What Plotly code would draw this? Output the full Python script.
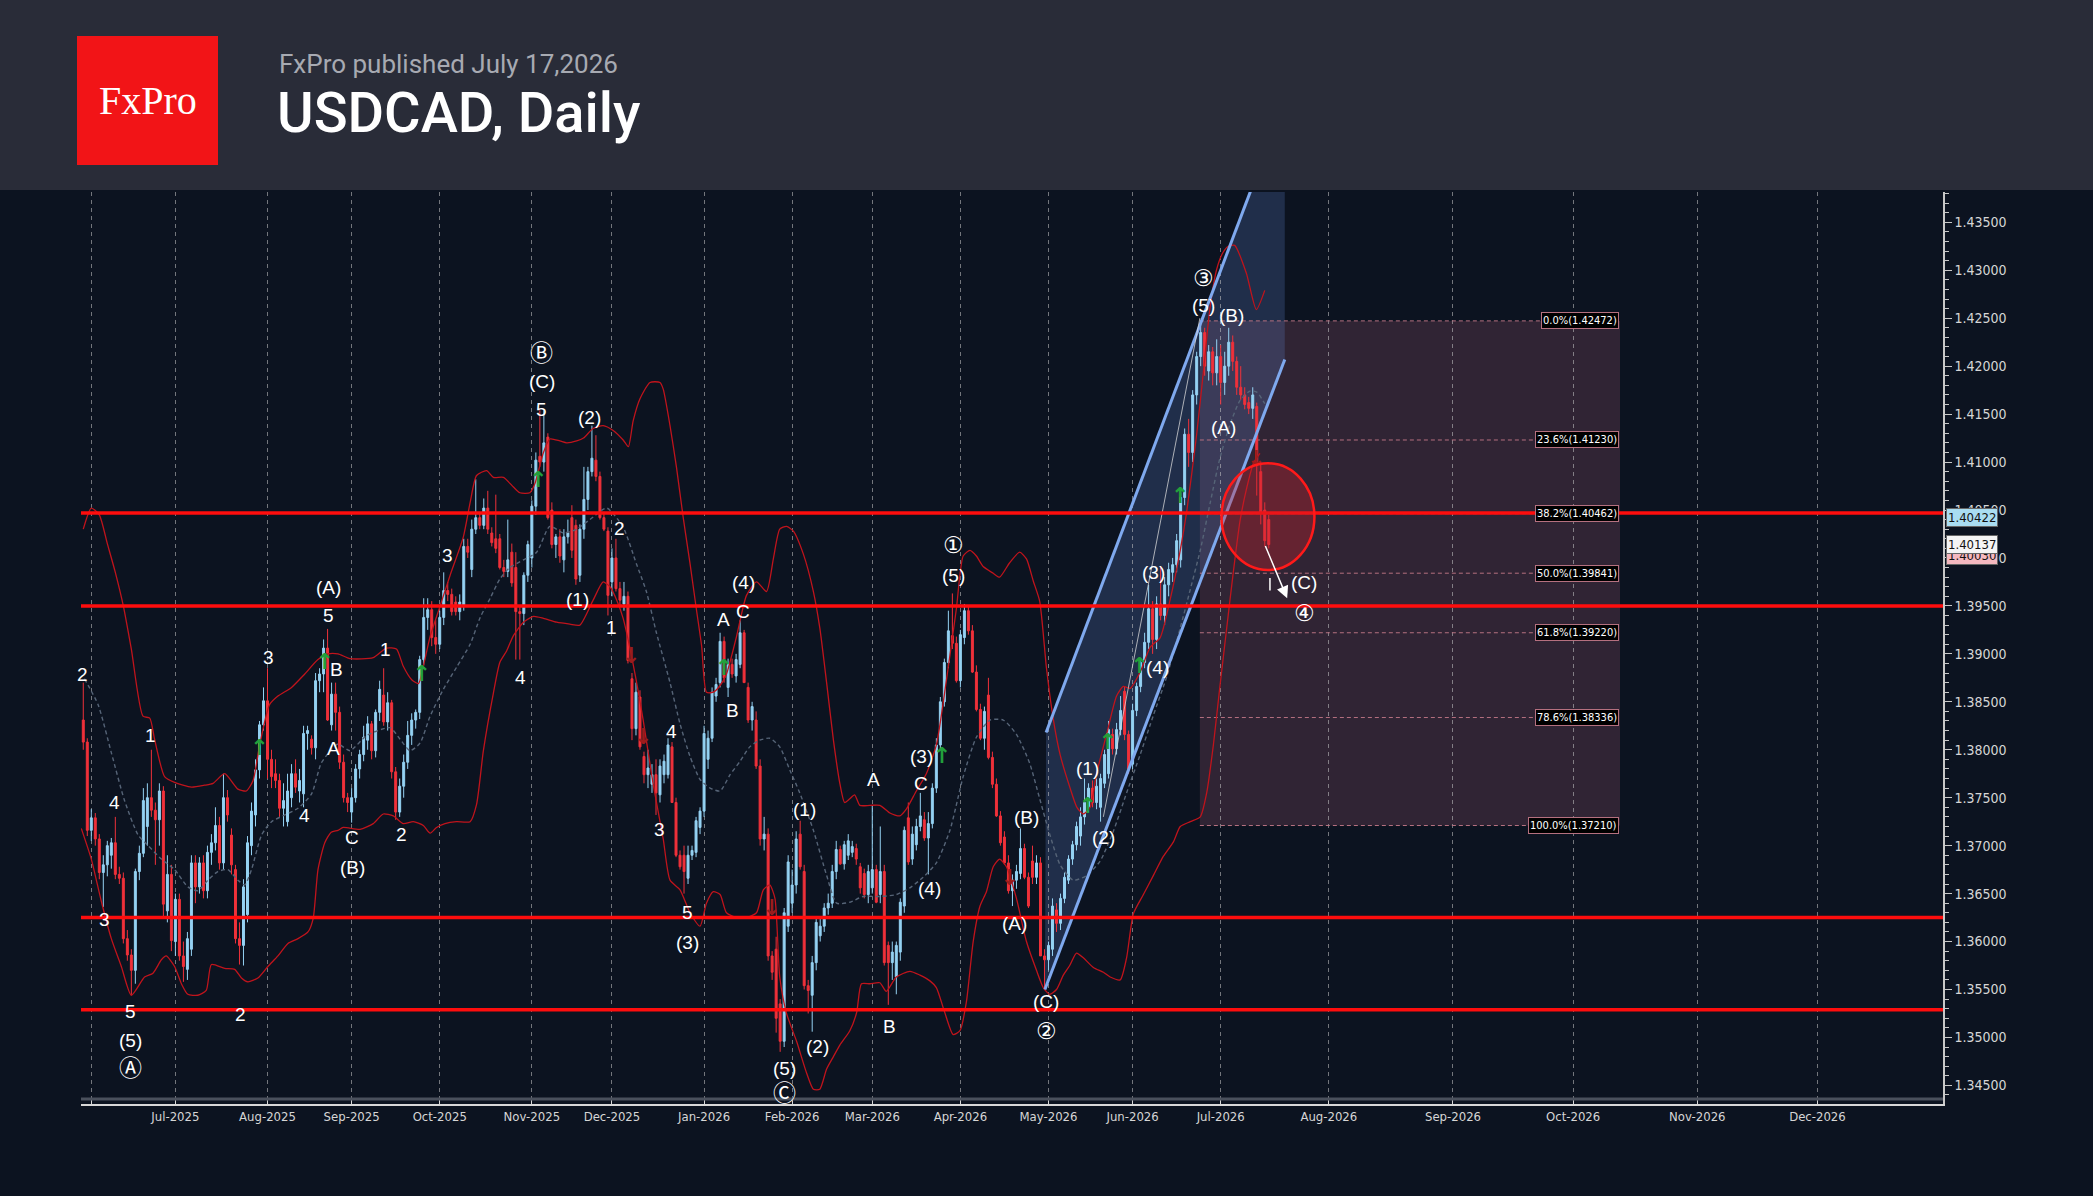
import pandas as pd
import plotly.graph_objects as go

# ---------------- DATA ----------------
opens = [
1.3831,1.3808,1.3716,1.3729,1.3707,1.3672,1.3680,1.3690,1.3703,1.3670,
1.3666,1.3603,1.3586,1.3570,1.3673,1.3692,1.3720,1.3750,1.3737,1.3727,
1.3757,1.3632,1.3670,1.3600,1.3644,1.3585,1.3571,1.3592,1.3682,1.3657,
1.3682,1.3653,1.3693,1.3703,1.3721,1.3682,1.3750,1.3711,1.3675,1.3603,
1.3596,1.3628,1.3700,1.3732,1.3779,1.3826,1.3851,1.3790,1.3775,1.3768,
1.3739,1.3725,1.3750,1.3775,1.3757,1.3754,1.3817,1.3811,1.3802,1.3872,
1.3879,1.3906,1.3826,1.3858,1.3839,1.3787,1.3750,1.3735,1.3750,1.3780,
1.3795,1.3810,1.3827,1.3799,1.3839,1.3857,1.3829,1.3849,1.3777,1.3735,
1.3762,1.3787,1.3815,1.3831,1.3839,1.3894,1.3938,1.3946,1.3917,1.3910,
1.3938,1.3966,1.3962,1.3954,1.3944,1.3951,1.4012,1.3988,1.4030,1.4042,
1.4034,1.4052,1.4026,1.4020,1.4020,1.3990,1.3986,1.4006,1.3990,1.3944,
1.3942,1.3982,1.4000,1.4054,1.4106,1.4100,1.4126,1.4050,1.4014,1.4022,
1.3998,1.4022,1.4042,1.4034,1.3982,1.4030,1.4061,1.4090,1.4102,1.4085,
1.4042,1.4028,1.3975,1.4000,1.3968,1.3952,1.3960,1.3874,1.3822,1.3855,
1.3793,1.3774,1.3764,1.3774,1.3753,1.3774,1.3774,1.3803,1.3745,1.3690,
1.3690,1.3666,1.3690,1.3693,1.3719,1.3736,1.3790,1.3812,1.3856,1.3870,
1.3913,1.3865,1.3889,1.3877,1.3889,1.3922,1.3865,1.3831,1.3831,1.3783,
1.3707,1.3712,1.3585,1.3592,1.3535,1.3496,1.3616,1.3640,1.3659,1.3712,
1.3673,1.3554,1.3544,1.3578,1.3606,1.3616,1.3635,1.3640,1.3673,1.3696,
1.3681,1.3690,1.3693,1.3697,1.3678,1.3671,1.3649,1.3656,1.3675,1.3649,
1.3673,1.3596,1.3578,1.3563,1.3589,1.3637,1.3729,1.3686,1.3701,1.3720,
1.3727,1.3708,1.3723,1.3760,1.3805,1.3850,1.3891,1.3919,1.3911,1.3872,
1.3917,1.3945,1.3924,1.3881,1.3842,1.3812,1.3857,1.3792,1.3764,1.3731,
1.3709,1.3682,1.3653,1.3664,1.3671,1.3697,1.3667,1.3684,1.3667,1.3682,
1.3585,1.3581,1.3592,1.3633,1.3619,1.3645,1.3664,1.3686,1.3701,1.3710,
1.3730,1.3740,1.3760,1.3745,1.3740,1.3765,1.3775,1.3816,1.3801,1.3821,
1.3861,1.3816,1.3785,1.3841,1.3866,1.3891,1.3912,1.3947,1.3915,1.3952,
1.3940,1.3972,1.3985,1.3993,1.3998,1.4063,1.4129,1.4110,1.4170,1.4210,
1.4235,1.4195,1.4215,1.4193,1.4210,1.4183,1.4200,1.4225,1.4205,1.4178,
1.4170,1.4162,1.4156,1.4158,1.4090,1.4050,1.4040]

highs = [
1.3870,1.3812,1.3738,1.3734,1.3712,1.3690,1.3705,1.3708,1.3730,1.3678,
1.3672,1.3612,1.3592,1.3676,1.3700,1.3760,1.3765,1.3800,1.3745,1.3765,
1.3762,1.3690,1.3680,1.3650,1.3650,1.3600,1.3610,1.3690,1.3690,1.3688,
1.3690,1.3700,1.3712,1.3740,1.3730,1.3775,1.3758,1.3718,1.3680,1.3620,
1.3665,1.3710,1.3745,1.3790,1.3830,1.3865,1.3885,1.3800,1.3790,1.3775,
1.3765,1.3775,1.3785,1.3790,1.3780,1.3825,1.3825,1.3815,1.3880,1.3885,
1.3915,1.3926,1.3870,1.3870,1.3845,1.3795,1.3755,1.3760,1.3785,1.3800,
1.3825,1.3835,1.3830,1.3842,1.3872,1.3885,1.3860,1.3852,1.3782,1.3770,
1.3795,1.3830,1.3838,1.3842,1.3898,1.3958,1.3958,1.3955,1.3935,1.3945,
1.3985,1.3975,1.3968,1.3960,1.3962,1.4020,1.4020,1.4040,1.4082,1.4048,
1.4062,1.4070,1.4032,1.4066,1.4025,1.3998,1.4040,1.4015,1.4006,1.3950,
1.3985,1.4018,1.4060,1.4110,1.4154,1.4154,1.4130,1.4058,1.4025,1.4030,
1.4030,1.4040,1.4055,1.4040,1.4035,1.4095,1.4095,1.4138,1.4128,1.4090,
1.4048,1.4032,1.4010,1.4020,1.3975,1.3975,1.3965,1.3880,1.3870,1.3862,
1.3798,1.3800,1.3785,1.3790,1.3790,1.3795,1.3812,1.3808,1.3750,1.3695,
1.3700,1.3700,1.3700,1.3730,1.3740,1.3825,1.3820,1.3865,1.3875,1.3922,
1.3918,1.3895,1.3895,1.3900,1.3935,1.3925,1.3870,1.3850,1.3840,1.3790,
1.3730,1.3718,1.3590,1.3605,1.3540,1.3635,1.3690,1.3675,1.3715,1.3726,
1.3680,1.3560,1.3585,1.3625,1.3625,1.3640,1.3650,1.3680,1.3705,1.3700,
1.3705,1.3712,1.3705,1.3702,1.3682,1.3676,1.3680,1.3742,1.3680,1.3720,
1.3680,1.3600,1.3600,1.3600,1.3645,1.3720,1.3745,1.3720,1.3728,1.3755,
1.3735,1.3735,1.3765,1.3812,1.3855,1.3895,1.3945,1.3963,1.3918,1.3925,
1.3952,1.3950,1.3930,1.3888,1.3848,1.3845,1.3875,1.3798,1.3770,1.3736,
1.3715,1.3690,1.3670,1.3680,1.3718,1.3702,1.3672,1.3700,1.3690,1.3688,
1.3592,1.3600,1.3645,1.3640,1.3650,1.3672,1.3690,1.3705,1.3725,1.3740,
1.3770,1.3765,1.3768,1.3770,1.3775,1.3800,1.3830,1.3822,1.3828,1.3856,
1.3866,1.3820,1.3848,1.3870,1.3895,1.3922,1.3972,1.3955,1.3960,1.3990,
1.3980,1.3995,1.4000,1.4025,1.4068,1.4135,1.4145,1.4175,1.4215,1.4247,
1.4240,1.4222,1.4220,1.4228,1.4222,1.4215,1.4240,1.4232,1.4210,1.4200,
1.4178,1.4168,1.4178,1.4162,1.4100,1.4058,1.4045]

lows = [
1.3800,1.3710,1.3705,1.3700,1.3665,1.3636,1.3668,1.3676,1.3665,1.3660,
1.3598,1.3580,1.3544,1.3556,1.3664,1.3688,1.3700,1.3730,1.3680,1.3700,
1.3625,1.3620,1.3590,1.3585,1.3580,1.3558,1.3560,1.3585,1.3640,1.3650,
1.3645,1.3645,1.3680,1.3695,1.3675,1.3675,1.3725,1.3670,1.3598,1.3576,
1.3575,1.3620,1.3690,1.3720,1.3770,1.3820,1.3770,1.3760,1.3760,1.3730,
1.3720,1.3720,1.3740,1.3755,1.3745,1.3740,1.3800,1.3795,1.3790,1.3860,
1.3860,1.3830,1.3820,1.3820,1.3780,1.3745,1.3735,1.3724,1.3745,1.3770,
1.3788,1.3800,1.3790,1.3792,1.3830,1.3825,1.3820,1.3770,1.3727,1.3730,
1.3750,1.3780,1.3805,1.3822,1.3832,1.3888,1.3925,1.3908,1.3900,1.3905,
1.3930,1.3955,1.3940,1.3940,1.3935,1.3945,1.4000,1.3980,1.4025,1.4030,
1.4030,1.4025,1.4012,1.4005,1.3988,1.3980,1.3980,1.3970,1.3894,1.3894,
1.3930,1.3975,1.3990,1.4045,1.4095,1.4090,1.4040,1.4010,1.4000,1.3995,
1.3985,1.4015,1.4000,1.3972,1.3975,1.4020,1.4050,1.4085,1.4080,1.4040,
1.4028,1.3940,1.3960,1.3965,1.3950,1.3945,1.3890,1.3810,1.3815,1.3800,
1.3765,1.3760,1.3755,1.3732,1.3745,1.3765,1.3770,1.3745,1.3688,1.3675,
1.3650,1.3660,1.3685,1.3688,1.3712,1.3730,1.3780,1.3808,1.3850,1.3865,
1.3870,1.3855,1.3875,1.3870,1.3885,1.3870,1.3828,1.3820,1.3780,1.3700,
1.3695,1.3580,1.3560,1.3505,1.3485,1.3490,1.3610,1.3630,1.3650,1.3675,
1.3550,1.3525,1.3506,1.3570,1.3600,1.3610,1.3628,1.3635,1.3665,1.3680,
1.3675,1.3685,1.3688,1.3680,1.3650,1.3645,1.3640,1.3650,1.3640,1.3640,
1.3575,1.3534,1.3560,1.3545,1.3580,1.3630,1.3680,1.3680,1.3695,1.3715,
1.3705,1.3670,1.3718,1.3755,1.3800,1.3845,1.3885,1.3905,1.3870,1.3865,
1.3910,1.3920,1.3880,1.3840,1.3810,1.3800,1.3790,1.3760,1.3730,1.3700,
1.3680,1.3650,1.3637,1.3655,1.3665,1.3665,1.3635,1.3660,1.3660,1.3585,
1.3552,1.3570,1.3585,1.3610,1.3612,1.3640,1.3660,1.3680,1.3695,1.3700,
1.3722,1.3735,1.3740,1.3738,1.3725,1.3760,1.3770,1.3795,1.3795,1.3815,
1.3810,1.3775,1.3780,1.3835,1.3860,1.3885,1.3905,1.3900,1.3905,1.3935,
1.3930,1.3960,1.3975,1.3985,1.3990,1.4055,1.4095,1.4100,1.4160,1.4200,
1.4190,1.4185,1.4180,1.4180,1.4160,1.4170,1.4190,1.4195,1.4170,1.4165,
1.4155,1.4150,1.4145,1.4065,1.4035,1.4012,1.4010]

closes = [
1.3808,1.3716,1.3729,1.3707,1.3672,1.3680,1.3700,1.3703,1.3670,1.3666,
1.3603,1.3586,1.3570,1.3673,1.3692,1.3747,1.3750,1.3737,1.3727,1.3757,
1.3639,1.3670,1.3601,1.3644,1.3585,1.3574,1.3603,1.3682,1.3657,1.3682,
1.3653,1.3693,1.3703,1.3721,1.3682,1.3750,1.3732,1.3680,1.3603,1.3596,
1.3657,1.3703,1.3736,1.3779,1.3826,1.3851,1.3790,1.3772,1.3768,1.3739,
1.3747,1.3757,1.3775,1.3761,1.3768,1.3817,1.3820,1.3802,1.3872,1.3879,
1.3906,1.3831,1.3858,1.3839,1.3787,1.3750,1.3745,1.3750,1.3780,1.3795,
1.3813,1.3827,1.3799,1.3839,1.3863,1.3829,1.3849,1.3777,1.3735,1.3762,
1.3787,1.3815,1.3831,1.3839,1.3894,1.3938,1.3946,1.3917,1.3910,1.3938,
1.3966,1.3962,1.3944,1.3944,1.3954,1.4012,1.4006,1.4030,1.4042,1.4034,
1.4052,1.4030,1.4016,1.4010,1.3990,1.3986,1.3998,1.3974,1.3944,1.3942,
1.3982,1.4014,1.4054,1.4102,1.4100,1.4120,1.4042,1.4014,1.4022,1.4002,
1.4022,1.4026,1.4008,1.3978,1.4030,1.4061,1.4090,1.4104,1.4085,1.4042,
1.4030,1.3961,1.4000,1.3968,1.3956,1.3960,1.3893,1.3822,1.3860,1.3803,
1.3774,1.3781,1.3774,1.3755,1.3783,1.3788,1.3805,1.3745,1.3690,1.3678,
1.3673,1.3690,1.3695,1.3726,1.3736,1.3817,1.3812,1.3860,1.3868,1.3913,
1.3875,1.3889,1.3879,1.3894,1.3922,1.3870,1.3831,1.3845,1.3783,1.3707,
1.3712,1.3585,1.3568,1.3520,1.3496,1.3630,1.3683,1.3659,1.3707,1.3678,
1.3554,1.3549,1.3578,1.3620,1.3616,1.3635,1.3640,1.3673,1.3696,1.3681,
1.3701,1.3705,1.3699,1.3686,1.3656,1.3649,1.3673,1.3675,1.3641,1.3673,
1.3578,1.3578,1.3589,1.3596,1.3641,1.3716,1.3683,1.3712,1.3720,1.3731,
1.3708,1.3723,1.3760,1.3805,1.3850,1.3891,1.3924,1.3911,1.3872,1.3920,
1.3945,1.3924,1.3881,1.3842,1.3812,1.3840,1.3792,1.3764,1.3731,1.3703,
1.3682,1.3653,1.3664,1.3673,1.3697,1.3667,1.3637,1.3667,1.3682,1.3585,
1.3581,1.3596,1.3637,1.3619,1.3645,1.3667,1.3686,1.3701,1.3720,1.3730,
1.3745,1.3760,1.3745,1.3762,1.3770,1.3795,1.3821,1.3801,1.3821,1.3841,
1.3816,1.3780,1.3841,1.3866,1.3891,1.3912,1.3947,1.3915,1.3952,1.3940,
1.3972,1.3988,1.3993,1.4018,1.4063,1.4129,1.4110,1.4170,1.4210,1.4235,
1.4200,1.4215,1.4193,1.4210,1.4183,1.4200,1.4225,1.4205,1.4178,1.4170,
1.4160,1.4156,1.4170,1.4100,1.4048,1.4018,1.4014]

# indicator lines (bar index, price)
upper_x = [0,2,4,6,8,10,12,14.9,16.6,17.8,20.3,22.8,27,30.3,32.4,35.3,38.6,40.7,42.4,44,46.5,48.6,52,55.3,58.6,61.1,
           63.6,66.6,72.4,75.7,78.2,79.9,82,83.7,84.9,86.6,89.1,91.6,94.9,96.6,98.2,100.7,102.4,104.9,107.4,109,111.5,
           112.8,114.9,116.5,119,120.7,123.2,124.9,127.3,129.8,132.3,134.8,136.1,137.3,139,141.5,144,144.8,146.5,148.1,
           149.8,151.5,153.1,154.4,155.6,157.3,159,160.6,163.1,165.6,168.1,170.6,172.3,173.9,175.6,177.3,179.8,182.3,
           183.9,185.6,187.3,188.9,190.1,191.4,192.6,193.9,196.4,198.9,201.4,203.9,205.5,208,210.5,213,215.5,218,219.7,
           221.4,223,224.7,227.2,228.8,231.3,233.8,235.5,237.2,238.8,240.5,242.2,243.9,246.4,248.1,249.7,251.4,253,255.5,
           258,259.7,261.4,263.9,266.4,268.9,271.4,273.9,275.5,278,279.7,281.3,283,284.5,285.9,287.5,290.4,292.9,295]
upper_y = [1.4030,1.4052,1.4045,1.4015,1.3985,1.3950,1.3905,1.3835,1.3833,1.3811,1.3772,1.3766,1.3761,1.3763,1.3765,
           1.3775,1.3759,1.3757,1.3768,1.3804,1.3847,1.3856,1.3865,1.3879,1.3894,1.3900,1.3900,1.3895,1.3896,1.3906,
           1.3905,1.3887,1.3873,1.3869,1.3887,1.3918,1.3950,1.3982,1.4022,1.4058,1.4086,1.4091,1.4084,1.4084,1.4074,
           1.4068,1.4068,1.4078,1.4110,1.4124,1.4122,1.4120,1.4122,1.4125,1.4135,1.4138,1.4133,1.4123,1.4116,1.4143,
           1.4166,1.4183,1.4183,1.4176,1.4138,1.4095,1.4042,1.3994,1.3946,1.3908,1.3860,1.3860,1.3867,1.3879,1.3918,
           1.3961,1.3975,1.3965,1.3999,1.4030,1.4033,1.4028,1.4004,1.3965,1.3927,1.3870,1.3810,1.3765,1.3745,1.3749,
           1.3753,1.3742,1.3742,1.3742,1.3734,1.3731,1.3738,1.3757,1.3775,1.3805,1.3872,1.3947,1.4002,1.4008,1.4002,
           1.3991,1.3984,1.3980,1.3995,1.4006,1.3999,1.3976,1.3955,1.3885,1.3832,1.3795,1.3760,1.3740,1.3733,1.3740,
           1.3775,1.3816,1.3856,1.3866,1.3864,1.3881,1.3907,1.3917,1.3957,1.4008,1.4048,1.4129,1.4195,1.4260,1.4301,
           1.4318,1.4325,1.4326,1.4297,1.4259,1.4279]

lower_x = [-0.5,2,4.5,7,9.5,12,15.3,17.4,19.5,20.7,22.8,24.5,26.1,28.6,30.7,32,35.3,37.8,39.5,41.1,43.6,46.1,48.6,51.1,
           53.6,56.1,57.4,58.6,60.3,61.9,63.6,64.9,69.1,72.4,74.9,77.4,79.9,82.4,84.9,86.6,88.2,90.3,93.2,96.6,98.2,99.9,
           102.4,104,105.7,107.4,109.9,112.4,114.9,118.2,121.5,124,127.3,129.8,131.5,133.2,134.8,137.3,139.8,142.3,144.8,
           146.5,149,151.5,154,155.6,157.3,159,160.6,163.1,165.6,168.1,169.8,171.4,172.7,173.9,175.6,178.1,180.6,182.3,
           183.9,185.6,187.3,188.9,191.4,193.1,194.3,196.4,198.9,200.5,203,206.4,208.9,211.4,213,215.1,217.2,218.9,220.5,
           222.2,223.9,225.5,227.2,228.8,230.5,233,235.5,238,239.7,241.3,243,244.7,246.3,248,249.7,252.2,254.7,256.4,
           258.9,260.5,262.2,264.7,267.2,269.7,272.2,273.9,276.4,278.9,280.5,282.2,283.8,285.5,287.2,288.8,290.5,292.2,
           293.8]
lower_y = [1.3718,1.3686,1.3642,1.3603,1.3574,1.3544,1.3563,1.3567,1.3581,1.3585,1.3574,1.3556,1.3545,1.3544,1.3549,
           1.3576,1.3572,1.3571,1.3562,1.3558,1.3562,1.3574,1.3585,1.3598,1.3603,1.3610,1.3624,1.3675,1.3703,1.3714,
           1.3716,1.3719,1.3717,1.3723,1.3733,1.3731,1.3723,1.3725,1.3721,1.3713,1.3719,1.3723,1.3725,1.3725,1.3743,
           1.3799,1.3859,1.3891,1.3903,1.3919,1.3933,1.3939,1.3937,1.3933,1.3931,1.3930,1.3956,1.3975,1.3970,1.3956,
           1.3937,1.3889,1.3831,1.3764,1.3707,1.3664,1.3654,1.3630,1.3616,1.3640,1.3652,1.3649,1.3630,1.3625,1.3625,
           1.3630,1.3654,1.3659,1.3645,1.3563,1.3525,1.3496,1.3463,1.3446,1.3446,1.3467,1.3480,1.3492,1.3507,1.3526,
           1.3556,1.3556,1.3557,1.3548,1.3563,1.3569,1.3565,1.3559,1.3552,1.3526,1.3503,1.3507,1.3537,1.3600,1.3637,
           1.3652,1.3678,1.3686,1.3678,1.3645,1.3600,1.3570,1.3552,1.3545,1.3550,1.3565,1.3575,1.3588,1.3583,1.3573,
           1.3568,1.3563,1.3560,1.3583,1.3629,1.3649,1.3669,1.3689,1.3704,1.3720,1.3725,1.3730,1.3755,1.3806,1.3866,
           1.3927,1.3987,1.4038,1.4073,1.4099,1.4109]

mid_x = [0.3,3.7,7,10.3,13.7,16.2,19.5,22.8,26.1,28.6,31.1,33.6,36.1,38.6,40.3,42,44.5,47,50.3,53.6,57,59.4,61.9,63.6,
         66.6,70.8,76.6,79.1,81.6,84.1,86.6,89.9,93.2,96.6,99.1,101.6,104,106.5,109.9,113.2,116.5,119.9,123.2,126.5,
         130.7,134.8,138.1,140.6,143.1,146.5,149,151.5,154,156.5,159,161.5,164,166.4,168.9,171.4,173.9,176.4,178.9,
         182.3,185.6,188.1,191.4,194.7,198.9,203,206.4,209.7,213,216.4,219.7,223,226.4,229.7,233,236.3,238.8,241.3,
         243.9,247.2,250.6,253.9,257.2,260.5,263.9,267.2,270.5,273.9,276.4,278.9,281.4,283.8,286.3,288.8,291.3,293,295]
mid_y = [1.3874,1.3847,1.3797,1.3747,1.3711,1.3700,1.3686,1.3675,1.3657,1.3653,1.3664,1.3673,1.3675,1.3664,1.3659,
         1.3675,1.3711,1.3725,1.3732,1.3739,1.3754,1.3786,1.3800,1.3806,1.3799,1.3815,1.3823,1.3811,1.3799,1.3807,
         1.3835,1.3863,1.3886,1.3910,1.3938,1.3958,1.3978,1.3990,1.3998,1.4006,1.4033,1.4026,1.4030,1.4040,1.4052,
         1.4032,1.3994,1.3965,1.3922,1.3870,1.3827,1.3793,1.3769,1.3760,1.3757,1.3774,1.3788,1.3803,1.3810,1.3812,
         1.3803,1.3779,1.3755,1.3716,1.3669,1.3640,1.3641,1.3647,1.3647,1.3649,1.3656,1.3667,1.3682,1.3716,1.3772,
         1.3813,1.3831,1.3831,1.3816,1.3786,1.3749,1.3712,1.3680,1.3664,1.3669,1.3684,1.3715,1.3755,1.3795,1.3836,
         1.3876,1.3927,1.3967,1.4008,1.4058,1.4104,1.4139,1.4164,1.4174,1.4173,1.4161]

support_resistance = [1.4047, 1.3950, 1.3625, 1.3529]

fib_pct = ["0.0%", "23.6%", "38.2%", "50.0%", "61.8%", "78.6%", "100.0%"]
fib_levels = [1.42472, 1.41230, 1.40462, 1.39841, 1.39220, 1.38336, 1.37210]

wave_text = ["2", "1", "4", "3", "5", "(5)", "Ⓐ", "2", "3", "(A)", "5", "B", "A", "4", "C", "(B)",
             "1", "2", "3", "4", "Ⓑ", "(C)", "5", "(2)", "(1)", "2", "1", "4", "3", "5", "(3)",
             "A", "C", "(4)", "B", "(1)", "(2)", "(5)", "Ⓒ", "A", "C", "(3)", "(4)", "B",
             "①", "(5)", "(B)", "(A)", "(C)", "②", "(1)", "(2)", "(3)", "(4)", "③", "(5)", "(B)", "(A)",
             "(C)", "④"]
wave_x = [-0.1, 16.9, 7.9, 5.2, 11.9, 11.9, 11.9, 39.2, 46.2, 61.2, 61.2, 63.2, 62.5, 55.2, 67.2, 67.2,
          75.5, 79.5, 90.9, 109.2, 114.5, 114.5, 114.5, 126.5, 123.5, 133.9, 131.9, 146.8, 143.9, 150.8, 150.8,
          159.8, 164.8, 164.8, 162.2, 180.2, 183.2, 175.2, 175.2, 197.2, 209.2, 209.2, 211.2, 201.2,
          217.2, 217.2, 235.5, 232.5, 240.5, 240.5, 250.8, 254.8, 267.2, 268.2, 279.8, 279.8, 286.8, 284.8,
          304.8, 304.8]
wave_y = [1.3878, 1.3815, 1.3745, 1.3623, 1.3527, 1.3497, 1.3468, 1.3524, 1.3896, 1.3969, 1.3940, 1.3884,
          1.3801, 1.3731, 1.3708, 1.3677, 1.3905, 1.3712, 1.4003, 1.3875, 1.4214, 1.4184, 1.4155, 1.4146,
          1.3957, 1.4031, 1.3928, 1.3819, 1.3717, 1.3630, 1.3599, 1.3936, 1.3944, 1.3974, 1.3841, 1.3738,
          1.3491, 1.3468, 1.3442, 1.3769, 1.3765, 1.3793, 1.3655, 1.3511, 1.4013, 1.3982, 1.3729, 1.3619,
          1.3538, 1.3507, 1.3780, 1.3708, 1.3985, 1.3886, 1.4292, 1.4263, 1.4253, 1.4136, 1.3974, 1.3943]

buy_x = [44.0, 60.3, 84.5, 113.6, 160.0, 214.4, 250.8, 255.8, 263.7, 273.9]
buy_y = [1.3800, 1.3890, 1.3877, 1.4080, 1.3884, 1.3792, 1.3740, 1.3806, 1.3886, 1.4063]
sell_x = [136.8, 139.8, 171.9, 231.3, 292.9]
sell_y = [1.3896, 1.3812, 1.3633, 1.3665, 1.4102]

price_tags = ["1.40030", "1.40422", "1.40137"]
price_tag_y = [1.40030, 1.40422, 1.40137]

# ---------------- GEOMETRY / STYLE ----------------
W, H = 2093, 1196
ML, MR, MT, MB = 81, 150, 192, 92
PW, PH = W - ML - MR, H - MT - MB
BG = "#0c1320"
AXF = "Liberation Sans Narrow, DejaVu Sans Condensed, Arial Narrow, sans-serif"
LBF = "Liberation Sans, DejaVu Sans, Noto Sans CJK JP, sans-serif"


def xp(px):
    return (px - ML) / PW


def yp(py):
    return (H - MB - py) / PH


n = len(closes)
bar_idx = list(range(n))
dates = pd.bdate_range("2025-05-29", periods=n)
month_starts = pd.date_range("2025-06-01", "2026-12-01", freq="MS")
tick_vals, tick_text = [], []
for k, m in enumerate(month_starts):
    if m <= dates[-1]:
        pos = int((dates >= m).argmax())
    else:
        pos = (n - 1) + (m - dates[-1]).days
    tick_vals.append(pos)
    tick_text.append("" if k == 0 else m.strftime("%b-%Y"))

fig = go.Figure()

# bands & middle line
fig.add_trace(go.Scatter(x=upper_x, y=upper_y, mode="lines", line=dict(color="#c0141c", width=1.3, shape="spline", smoothing=0.6), hoverinfo="skip"))
fig.add_trace(go.Scatter(x=lower_x, y=lower_y, mode="lines", line=dict(color="#c0141c", width=1.3, shape="spline", smoothing=0.6), hoverinfo="skip"))
fig.add_trace(go.Scatter(x=mid_x, y=mid_y, mode="lines", line=dict(color="#566477", width=1.4, dash="4px,3px", shape="spline", smoothing=0.6), hoverinfo="skip"))

# candles
fig.add_trace(go.Candlestick(
    x=bar_idx, open=opens, high=highs, low=lows, close=closes,
    increasing=dict(line=dict(color="#95d2f3", width=1), fillcolor="#95d2f3"),
    decreasing=dict(line=dict(color="#f0313a", width=1), fillcolor="#f0313a"),
    whiskerwidth=0, hoverinfo="skip"))

# signal arrows
fig.add_trace(go.Scatter(x=buy_x, y=buy_y, mode="text", text=["<b>↑</b>"] * len(buy_x),
                         textfont=dict(color="#22a03c", size=22, family="DejaVu Sans"), hoverinfo="skip"))
fig.add_trace(go.Scatter(x=sell_x, y=sell_y, mode="text", text=["<b>↓</b>"] * len(sell_x),
                         textfont=dict(color="#9a1c1c", size=22, family="DejaVu Sans"), hoverinfo="skip"))

shapes = []
# header
shapes.append(dict(type="rect", xref="paper", yref="paper", x0=xp(0), x1=xp(W), y0=yp(190), y1=yp(0),
                   fillcolor="#292c38", line=dict(width=0), layer="above"))
shapes.append(dict(type="rect", xref="paper", yref="paper", x0=xp(77), x1=xp(218), y0=yp(165), y1=yp(36),
                   fillcolor="#f21417", line=dict(width=0), layer="above"))

# fib rectangle
fx0, fx1 = 278.8, 383.7
shapes.append(dict(type="rect", x0=fx0, x1=fx1, y0=fib_levels[-1], y1=fib_levels[0],
                   fillcolor="rgba(120,72,95,0.33)", line=dict(width=0), layer="below"))
for lv in fib_levels:
    shapes.append(dict(type="line", x0=fx0, x1=fx1 - 18, y0=lv, y1=lv,
                       line=dict(color="#b5707f", width=1, dash="4px,3px"), layer="between"))

# channel
cu0, cu1 = (240.4, 1.3818), (300.0, 1.4477)
cl0, cl1 = (240.1, 1.3550), (300.0, 1.4207)
shapes.append(dict(type="path",
                   path=f"M {cu0[0]},{cu0[1]} L {cu1[0]},{cu1[1]} L {cl1[0]},{cl1[1]} L {cl0[0]},{cl0[1]} Z",
                   fillcolor="rgba(95,135,210,0.24)", line=dict(width=0), layer="below"))
for a, b in [(cu0, cu1), (cl0, cl1)]:
    shapes.append(dict(type="line", x0=a[0], y0=a[1], x1=b[0], y1=b[1],
                       line=dict(color="#7fa9ee", width=3), layer="above"))
# thin trend line (2)->(5)
shapes.append(dict(type="line", x0=254.7, y0=1.3730, x1=278.8, y1=1.4250,
                   line=dict(color="rgba(220,220,220,0.75)", width=1), layer="above"))

# support / resistance lines
for lv in support_resistance:
    shapes.append(dict(type="line", xref="paper", x0=0, x1=1, y0=lv, y1=lv,
                       line=dict(color="#ff0d0d", width=3.5), layer="above"))

# circle
shapes.append(dict(type="circle", x0=284.2, x1=307.4, y0=1.39874, y1=1.40987,
                   fillcolor="rgba(200,35,45,0.35)", line=dict(color="#ff1a1a", width=2.5), layer="above"))
# small mark
shapes.append(dict(type="line", x0=296.3, x1=296.3, y0=1.3966, y1=1.3979,
                   line=dict(color="white", width=1.5), layer="above"))
# bottom separator
shapes.append(dict(type="line", xref="paper", yref="paper", x0=0, x1=1, y0=yp(1099), y1=yp(1099),
                   line=dict(color="#4a505c", width=3), layer="above"))

annotations = []
# header texts
annotations.append(dict(xref="paper", yref="paper", x=xp(147.5), y=yp(100), text="FxPro", showarrow=False,
                        font=dict(family="Liberation Serif, DejaVu Serif, serif", size=40, color="white"),
                        xanchor="center", yanchor="middle"))
annotations.append(dict(xref="paper", yref="paper", x=xp(277), y=yp(64), text="FxPro published July 17,2026",
                        showarrow=False, font=dict(family="Roboto, sans-serif", size=26, color="#a7aab2"),
                        xanchor="left", yanchor="middle"))
annotations.append(dict(xref="paper", yref="paper", x=xp(275), y=yp(113), text="USDCAD, Daily",
                        showarrow=False, font=dict(family="Roboto, sans-serif", size=56, color="white", weight=500),
                        xanchor="left", yanchor="middle"))

# wave labels
for t, x, y in zip(wave_text, wave_x, wave_y):
    circ = t in "①②③④ⒶⒷⒸ"
    annotations.append(dict(x=x, y=y, text=t, showarrow=False,
                            font=dict(family=LBF, size=23 if circ else 19, color="white"),
                            xanchor="center", yanchor="middle"))

# fib labels
for pct, lv in zip(fib_pct, fib_levels):
    annotations.append(dict(x=fx1 - 0.3, y=lv, text=f"{pct}({lv:.5f})", showarrow=False,
                            font=dict(family=AXF, size=11, color="white"),
                            bgcolor="black", bordercolor="#b5707f", borderwidth=1, borderpad=1,
                            xanchor="right", yanchor="middle"))

# arrow from last candle
annotations.append(dict(x=300.6, y=1.3958, ax=295.0, ay=1.4014, axref="x", ayref="y", xref="x", yref="y",
                        showarrow=True, arrowhead=2, arrowsize=1.6, arrowwidth=1.5, arrowcolor="white", text=""))

# price tags on the axis
tag_bg = ["#f4b8bf", "#a9ddf2", "#f4f4f4"]
for t, y, bgc in zip(price_tags, price_tag_y, tag_bg):
    annotations.append(dict(xref="paper", x=1.0, xshift=3, y=y, text=t, showarrow=False,
                            font=dict(family=AXF, size=13, color="#111"), bgcolor=bgc,
                            bordercolor="#666", borderwidth=1, borderpad=1, xanchor="left", yanchor="middle"))

fig.update_layout(
    width=W, height=H, margin=dict(l=ML, r=MR, t=MT, b=MB, pad=0),
    paper_bgcolor=BG, plot_bgcolor=BG, showlegend=False, hovermode=False,
    boxgap=0.3, shapes=shapes, annotations=annotations,
    xaxis=dict(range=[-0.57, 464.35], tickvals=tick_vals, ticktext=tick_text, showgrid=True,
               gridcolor="rgba(200,200,200,0.55)", griddash="4px,4px", gridwidth=1,
               showline=True, linecolor="#d8d8d8", linewidth=1.5, ticks="inside", ticklen=5,
               tickcolor="#d8d8d8", tickfont=dict(family=AXF, size=13, color="#d6d6d6"),
               zeroline=False, rangeslider=dict(visible=False), fixedrange=True),
    yaxis=dict(range=[1.34306, 1.43816], side="right", tick0=1.345, dtick=0.005, tickformat=".5f",
               showgrid=False, zeroline=False, showline=True, linecolor="#c8c8c8", linewidth=1.5,
               ticks="outside", ticklen=7, tickcolor="#c8c8c8",
               tickfont=dict(family=AXF, size=14, color="#d6d6d6"),
               minor=dict(dtick=0.001, tick0=1.345, ticks="outside", ticklen=4, tickcolor="#c8c8c8"),
               fixedrange=True),
)

fig.write_html("out.html")
